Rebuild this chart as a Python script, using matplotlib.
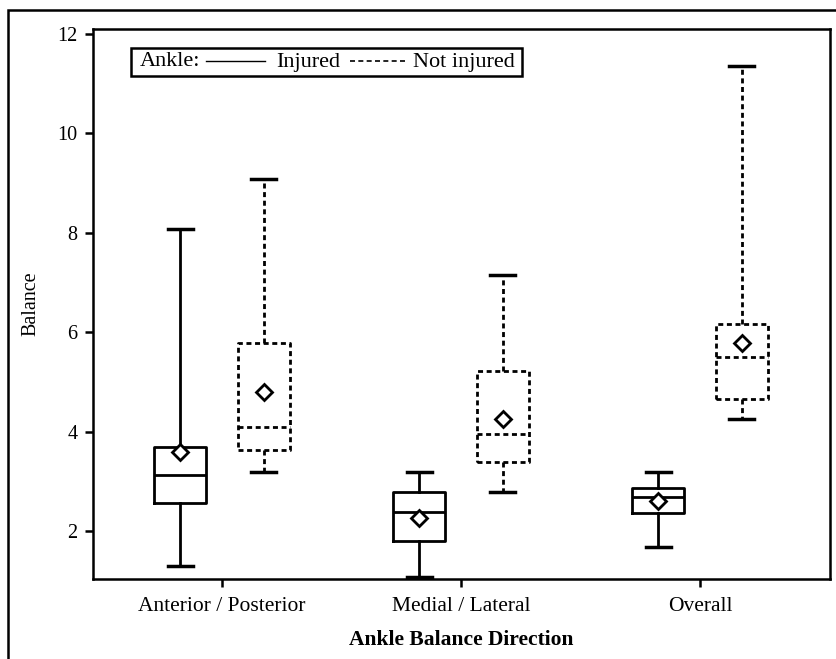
import matplotlib
matplotlib.use("Agg")
import matplotlib.pyplot as plt
from matplotlib.lines import Line2D
from matplotlib.patches import Rectangle

plt.rcParams['font.family'] = ['Liberation Serif', 'DejaVu Serif']

categories = ["Anterior / Posterior", "Medial / Lateral", "Overall"]

# injured ankle
inj_low = [1.30, 1.08, 1.67]
inj_q1 = [2.57, 1.79, 2.37]
inj_med = [3.13, 2.38, 2.69]
inj_q3 = [3.69, 2.78, 2.87]
inj_high = [8.08, 3.18, 3.18]
inj_mean = [3.58, 2.26, 2.60]

# not injured ankle
non_low = [3.18, 2.79, 4.26]
non_q1 = [3.63, 3.38, 4.66]
non_med = [4.09, 3.95, 5.51]
non_q3 = [5.78, 5.22, 6.16]
non_high = [9.08, 7.16, 11.36]
non_mean = [4.79, 4.26, 5.78]


def make_stats(low, q1, med, q3, high, mean):
    return [dict(whislo=a, q1=b, med=c, q3=d, whishi=e, mean=f, fliers=[])
            for a, b, c, d, e, f in zip(low, q1, med, q3, high, mean)]


fig = plt.figure(figsize=(8.36, 6.59), dpi=100)
ax = fig.add_axes([93 / 836, 80 / 659, 737 / 836, 550 / 659])

# outer frame of the figure (right / bottom edges fall off the image)
fig.patches.append(Rectangle((8 / 836, -0.05), 1.2, (659 - 10) / 659 + 0.05,
                             transform=fig.transFigure, fill=False,
                             edgecolor='black', linewidth=1.8))

pos = [1, 2, 3]
off = 0.175
dash = (0, (1.8, 1.3))
mean_style = dict(marker='D', markersize=8.5, markerfacecolor='white',
                  markeredgecolor='black', markeredgewidth=2)

ax.bxp(make_stats(inj_low, inj_q1, inj_med, inj_q3, inj_high, inj_mean),
       positions=[p - off for p in pos], widths=0.218, capwidths=0.105,
       showmeans=True, showfliers=False,
       boxprops=dict(color='black', linewidth=2),
       whiskerprops=dict(color='black', linewidth=2),
       capprops=dict(color='black', linewidth=2.5),
       medianprops=dict(color='black', linewidth=2),
       meanprops=mean_style)

ax.bxp(make_stats(non_low, non_q1, non_med, non_q3, non_high, non_mean),
       positions=[p + off for p in pos], widths=0.218, capwidths=0.105,
       showmeans=True, showfliers=False,
       boxprops=dict(color='black', linewidth=2, linestyle=dash),
       whiskerprops=dict(color='black', linewidth=2, linestyle=dash),
       capprops=dict(color='black', linewidth=2.5),
       medianprops=dict(color='black', linewidth=2, linestyle=dash),
       meanprops=mean_style)

ax.set_xlim(0.46, 3.544)
ax.set_ylim(1.034, 12.1)
ax.set_xticks(pos)
ax.set_xticklabels(categories, fontsize=15.5)
ax.set_yticks([2, 4, 6, 8, 10, 12])
ax.tick_params(axis='both', direction='out', length=6, width=1.8)
ax.tick_params(axis='y', labelsize=14.5, pad=5)
ax.tick_params(axis='x', pad=7)
for s in ax.spines.values():
    s.set_linewidth(1.8)

ax.set_xlabel("Ankle Balance Direction", fontsize=15.5, fontweight='bold',
              labelpad=10)
ax.set_ylabel("Balance", fontsize=14.5, labelpad=12)

# legend drawn by hand: Ankle: ---- Injured ------ Not injured
ax.add_patch(Rectangle((0.051, 0.9145), 0.531, 0.051, transform=ax.transAxes,
                       fill=False, edgecolor='black', linewidth=1.8))
ax.text(0.0638, 0.940, "Ankle:", transform=ax.transAxes, fontsize=16,
        va='center', ha='left')
ax.add_line(Line2D([0.153, 0.233], [0.942, 0.942], transform=ax.transAxes,
                   color='black', linewidth=1))
ax.text(0.248, 0.940, "Injured", transform=ax.transAxes, fontsize=16,
        va='center', ha='left')
ax.add_line(Line2D([0.349, 0.426], [0.942, 0.942], transform=ax.transAxes,
                   color='black', linewidth=1.2, linestyle=(0, (3, 2))))
ax.text(0.434, 0.940, "Not injured", transform=ax.transAxes, fontsize=16,
        va='center', ha='left')

plt.savefig("out.png", dpi=100)
